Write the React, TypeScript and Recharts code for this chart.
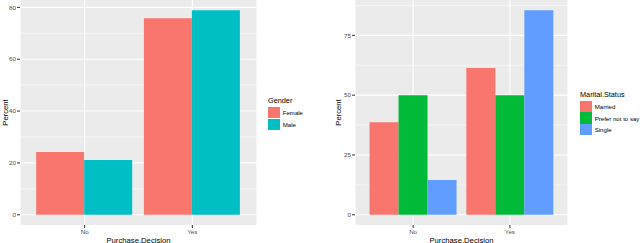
import { Bar, BarChart, CartesianGrid, XAxis, YAxis } from "recharts";

const decisions = ["No", "Yes"];

const femalePct = [24.2, 75.8];
const malePct = [21.1, 78.9];

const marriedPct = [38.7, 61.3];
const preferPct = [50, 50];
const singlePct = [14.5, 85.5];

const genderTicks = [0, 20, 40, 60, 80];
const genderMinor = [10, 30, 50, 70];
const maritalTicks = [0, 25, 50, 75];
const maritalMinor = [12.5, 37.5, 62.5, 87.5];

const FONT = '"Liberation Sans", Arial, sans-serif';
const PANEL = "#EBEBEB";
const TICK_TEXT = "#4D4D4D";

const genderSeries = [
  { key: "Female", values: femalePct, color: "#F8766D" },
  { key: "Male", values: malePct, color: "#00BFC4" },
];

const maritalSeries = [
  { key: "Married", values: marriedPct, color: "#F8766D" },
  { key: "Prefer not to say", values: preferPct, color: "#00BA38" },
  { key: "Single", values: singlePct, color: "#619CFF" },
];

type Series = { key: string; values: number[]; color: string };

function buildRows(series: Series[]) {
  return decisions.map((d, i) => {
    const row: Record<string, string | number> = { decision: d };
    series.forEach((s) => (row[s.key] = s.values[i]));
    return row;
  });
}

// ggplot-style 5% expansion of the continuous axis
function expandedDomain(series: Series[]): [number, number] {
  const max = Math.max(...series.flatMap((s) => s.values));
  return [-0.05 * max, 1.05 * max];
}

function YTitle(props: any) {
  const { viewBox, dx } = props;
  const cy = viewBox.y + viewBox.height / 2;
  return (
    <text
      transform={`translate(${viewBox.x + dx},${cy}) rotate(-90)`}
      textAnchor="middle"
      dominantBaseline="central"
      fontSize={7.7}
      fontFamily={FONT}
      fill="#000"
    >
      Percent
    </text>
  );
}

function XTitle(props: any) {
  const { viewBox } = props;
  return (
    <text
      x={viewBox.x + viewBox.width / 2}
      y={240}
      textAnchor="middle"
      dominantBaseline="central"
      fontSize={7.7}
      fontFamily={FONT}
      fill="#000"
    >
      Purchase.Decision
    </text>
  );
}

type PanelProps = {
  series: Series[];
  ticks: number[];
  minor: number[];
  yAxisWidth: number;
  rightMargin: number;
  pad: number;
  titleDx: number;
};

function PercentPanel({
  series,
  ticks,
  minor,
  yAxisWidth,
  rightMargin,
  pad,
  titleDx,
}: PanelProps) {
  const rows = buildRows(series);
  const tickStyle = { fill: TICK_TEXT, fontSize: 6.2, fontFamily: FONT };

  return (
    <BarChart
      width={320}
      height={243}
      data={rows}
      margin={{ top: 0, right: rightMargin, bottom: 0, left: 0 }}
      barGap={0}
      barCategoryGap="5%"
    >
      <CartesianGrid
        fill={PANEL}
        stroke="#FFFFFF"
        strokeWidth={0.5}
        vertical={false}
        horizontalValues={minor}
      />
      <CartesianGrid
        stroke="#FFFFFF"
        strokeWidth={1.1}
        horizontalValues={ticks}
      />
      <XAxis
        dataKey="decision"
        height={18}
        padding={{ left: pad, right: pad }}
        axisLine={false}
        tickLine={{ stroke: "#333333" }}
        tickSize={3}
        tickMargin={1.5}
        tick={tickStyle}
        label={{ content: XTitle }}
      />
      <YAxis
        type="number"
        width={yAxisWidth}
        domain={expandedDomain(series)}
        allowDataOverflow
        ticks={ticks}
        axisLine={false}
        tickLine={{ stroke: "#333333" }}
        tickSize={3}
        tickMargin={1}
        tick={tickStyle}
        label={{ content: (p: any) => <YTitle {...p} dx={titleDx} /> }}
      />
      {series.map((s) => (
        <Bar
          key={s.key}
          dataKey={s.key}
          fill={s.color}
          isAnimationActive={false}
        />
      ))}
    </BarChart>
  );
}

function KeyLegend({
  title,
  series,
  left,
  top,
}: {
  title: string;
  series: Series[];
  left: number;
  top: number;
}) {
  return (
    <div
      style={{
        position: "absolute",
        left,
        top,
        fontFamily: FONT,
        whiteSpace: "nowrap",
      }}
    >
      <div style={{ fontSize: 7.3, height: 11, lineHeight: "9px" }}>
        {title}
      </div>
      {series.map((s) => (
        <div
          key={s.key}
          style={{ display: "flex", alignItems: "center", height: 11.7 }}
        >
          <div
            style={{
              width: 11.5,
              height: 11.2,
              background: s.color,
              marginRight: 3.2,
            }}
          />
          <span style={{ fontSize: 6.1 }}>{s.key}</span>
        </div>
      ))}
    </div>
  );
}

export default function App() {
  return (
    <div
      style={{
        position: "absolute",
        left: 0,
        top: 0,
        width: 640,
        height: 243,
        overflow: "hidden",
        background: "#FFFFFF",
      }}
    >
      <div style={{ position: "absolute", left: 0, top: 0 }}>
        <PercentPanel
          series={genderSeries}
          ticks={genderTicks}
          minor={genderMinor}
          yAxisWidth={20}
          rightMargin={63}
          pad={10.8}
          titleDx={5}
        />
      </div>
      <div style={{ position: "absolute", left: 320, top: 0 }}>
        <PercentPanel
          series={maritalSeries}
          ticks={maritalTicks}
          minor={maritalMinor}
          yAxisWidth={35}
          rightMargin={72}
          pad={9.7}
          titleDx={18}
        />
      </div>
      <KeyLegend title="Gender" series={genderSeries} left={268} top={96} />
      <KeyLegend
        title="Marital.Status"
        series={maritalSeries}
        left={580}
        top={89.5}
      />
    </div>
  );
}
